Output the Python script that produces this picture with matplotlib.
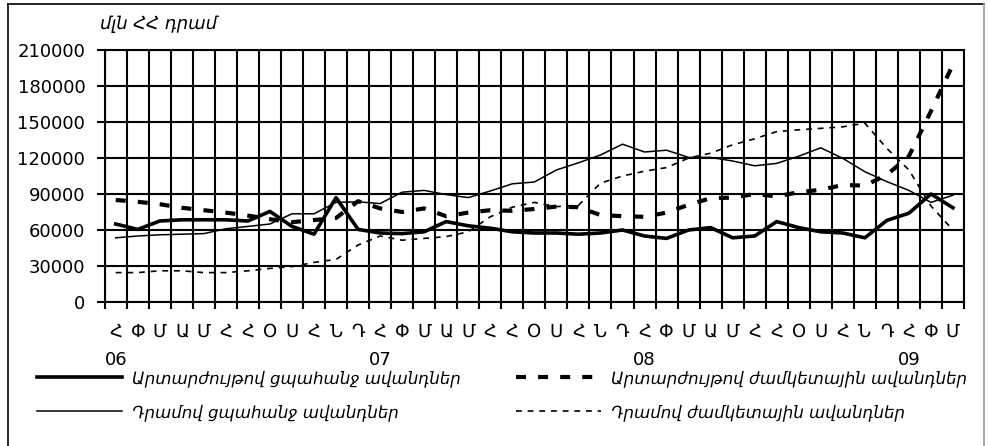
import numpy as np
import matplotlib.pyplot as plt
from matplotlib.lines import Line2D

# deposits, million AMD, monthly Jan 2006 - Mar 2009
months = ['Հ', 'Փ', 'Մ', 'Ա', 'Մ', 'Հ', 'Հ', 'Օ', 'Ս', 'Հ', 'Ն', 'Դ'] * 3 + ['Հ', 'Փ', 'Մ']
years = ['06', '07', '08', '09']

fx_demand = [65000, 60500, 67500, 68500, 68500, 68500, 67500, 75500, 63000, 56500,
             87000, 60500, 57500, 57000, 58500, 67000, 63500, 61500, 58500, 57500,
             57500, 56500, 57500, 60000, 55000, 53000, 60000, 62000, 53500, 55000,
             67000, 62000, 58500, 57500, 53500, 68000, 74000, 90000, 78500]
dram_demand = [53500, 55000, 56000, 56500, 57000, 61000, 63000, 65000, 73500, 73500,
               83000, 83500, 82000, 91500, 93000, 89500, 87000, 92500, 98500, 100000,
               110000, 116000, 122500, 131500, 125000, 126500, 120500, 120500, 117500, 113500,
               115500, 121500, 128500, 119700, 108600, 100300, 93000, 83000, 89000]
fx_time = [85000, 83500, 81500, 78500, 76500, 74500, 72000, 69000, 66500, 68300,
           70000, 84000, 78000, 75000, 78000, 71500, 74500, 76500, 76000, 77500,
           79500, 79000, 72500, 71500, 71000, 74500, 81000, 86500, 87000, 90000,
           88000, 91500, 93500, 97500, 97000, 106000, 121500, 159000, 198000]
dram_time = [24500, 24500, 26000, 26000, 24500, 24500, 26000, 28000, 29500, 33000,
             35500, 47500, 55000, 51500, 53000, 54500, 58500, 71000, 79000, 83000,
             79500, 80500, 99000, 105000, 109000, 112000, 120000, 124000, 131000, 136000,
             142000, 143500, 144700, 146000, 149000, 128000, 110000, 80000, 60000]

labels = ['Արտարժույթով ցպահանջ ավանդներ',
          'Դրամով ցպահանջ ավանդներ',
          'Արտարժույթով ժամկետային ավանդներ',
          'Դրամով ժամկետային ավանդներ']

plt.rcParams['font.family'] = ['DejaVu Sans']

W, H = 988, 446
fig = plt.figure(figsize=(W / 100, H / 100), dpi=100)
ax = fig.add_axes([104.7 / W, 1 - 302 / H, (964 - 104.7) / W, 252 / H])

x = np.arange(len(months))
ax.plot(x, fx_demand, color='black', lw=2.6, label=labels[0])
ax.plot(x, dram_demand, color='black', lw=1.1, label=labels[1])
ax.plot(x, fx_time, color='black', lw=3, linestyle=(0, (2.4, 2.9)), label=labels[2])
ax.plot(x, dram_time, color='black', lw=1.2, linestyle=(0, (3.5, 3.5)), label=labels[3])

ax.set_xlim(-0.5, len(months) - 0.5)
ax.set_ylim(0, 210000)
ax.set_yticks(range(0, 210001, 30000))

# grid lines sit on the category boundaries, month letters in between
ax.set_xticks(np.arange(-0.5, len(months), 1))
ax.set_xticklabels([])
ax.set_xticks(x, minor=True)
ax.set_xticklabels(months, minor=True)
ax.tick_params(axis='x', which='minor', length=0, pad=15, labelsize=13)
ax.tick_params(axis='x', which='major', length=5, width=1.5)
ax.tick_params(axis='y', length=6, width=1.5, pad=8, labelsize=13)
ax.grid(True, which='major', color='black', lw=1.5)
for s in ax.spines.values():
    s.set_linewidth(1.5)

for k, yr in enumerate(years):
    ax.text(12 * k, -0.23, yr, transform=ax.get_xaxis_transform(),
            ha='center', va='center', fontsize=13)

fig.text(100 / W, 1 - 24 / H, 'մլն ՀՀ դրամ', style='italic', fontsize=13,
         ha='left', va='center')

fig.legend(loc='upper left', bbox_to_anchor=(37 / W, 1 - 369 / H), ncol=2,
           frameon=False, prop={'style': 'italic', 'size': 12},
           handlelength=5.1, handletextpad=0.6, columnspacing=3.3,
           labelspacing=0.95, borderpad=0, borderaxespad=0)

# outer frame
fig.add_artist(Line2D([8 / W, 8 / W], [0, 1 - 4 / H], color='black', lw=1.2))
fig.add_artist(Line2D([8 / W, 984 / W], [1 - 4 / H, 1 - 4 / H], color='black', lw=1.2))
fig.add_artist(Line2D([984 / W, 984 / W], [0, 1 - 4 / H], color='#999999', lw=1.2))

fig.savefig('out.png', dpi=100)
